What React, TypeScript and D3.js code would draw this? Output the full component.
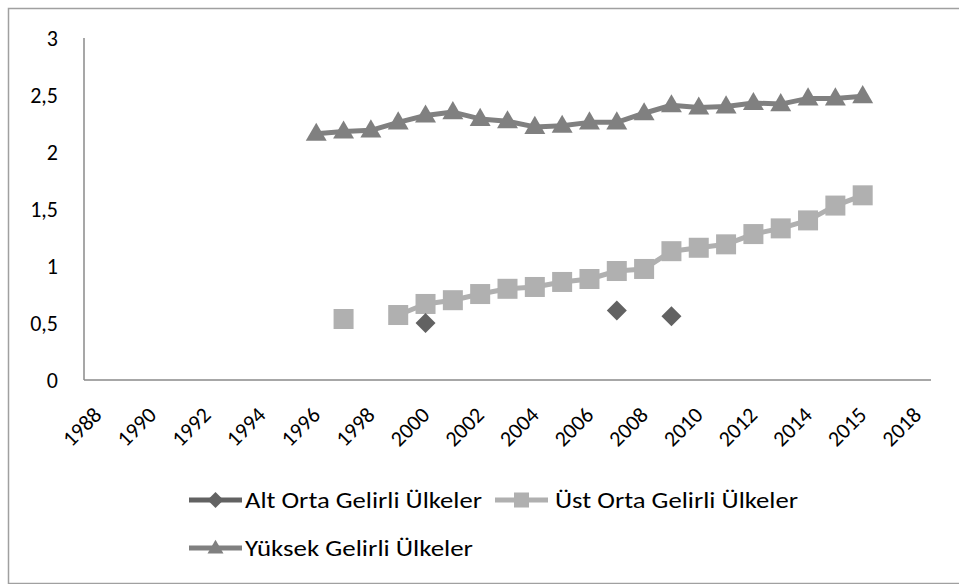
import React from "react";
import * as d3 from "d3";

const categories = [
  "1988","1989","1990","1991","1992","1993","1994","1995","1996","1997",
  "1998","1999","2000","2001","2002","2003","2004","2005","2006","2007",
  "2008","2009","2010","2011","2012","2013","2014","2015","2016","2017","2018",
];
const tickCategories = ["1988","1990","1992","1994","1996","1998","2000","2002","2004","2006","2008","2010","2012","2014","2016","2018"];
const tickLabels = ["1988","1990","1992","1994","1996","1998","2000","2002","2004","2006","2008","2010","2012","2014","2015","2018"];
const yTicks = [0, 0.5, 1, 1.5, 2, 2.5, 3];

const altOrtaYears = ["2000", "2007", "2009"];
const altOrtaValues = [0.5, 0.61, 0.56];

const ustOrtaYears = ["1997","1998","1999","2000","2001","2002","2003","2004","2005","2006","2007","2008","2009","2010","2011","2012","2013","2014","2015","2016"];
const ustOrtaValues: (number | null)[] = [0.535, null, 0.57, 0.667, 0.70, 0.754, 0.80, 0.816, 0.86, 0.886, 0.956, 0.974, 1.13, 1.16, 1.19, 1.28, 1.33, 1.40, 1.53, 1.62];

const yuksekYears = ["1996","1997","1998","1999","2000","2001","2002","2003","2004","2005","2006","2007","2008","2009","2010","2011","2012","2013","2014","2015","2016"];
const yuksekValues = [2.16, 2.18, 2.19, 2.26, 2.32, 2.35, 2.29, 2.27, 2.22, 2.23, 2.26, 2.26, 2.34, 2.41, 2.39, 2.40, 2.43, 2.42, 2.47, 2.47, 2.49];

const seriesNames = ["Alt Orta Gelirli Ülkeler", "Üst Orta Gelirli Ülkeler", "Yüksek Gelirli Ülkeler"];

const FONT = "Carlito, Calibri, Lato, 'Open Sans', sans-serif";
const C_ALT = "#626262";
const C_UST = "#b0b0b0";
const C_YUK = "#808080";

type Pt = { c: string; v: number | null };

export default function App() {
  const W = 959, H = 584;
  const x = d3.scaleBand<string>().domain(categories).range([84, 931]).paddingInner(0).paddingOuter(0);
  const y = d3.scaleLinear().domain([0, 3]).range([380, 38]);
  const cx = (c: string) => (x(c) as number) + x.bandwidth() / 2;

  const line = d3.line<Pt>()
    .defined((d) => d.v !== null)
    .x((d) => cx(d.c))
    .y((d) => y(d.v as number));

  const ust: Pt[] = ustOrtaYears.map((c, i) => ({ c, v: ustOrtaValues[i] }));
  const yuk: Pt[] = yuksekYears.map((c, i) => ({ c, v: yuksekValues[i] }));
  const alt: Pt[] = altOrtaYears.map((c, i) => ({ c, v: altOrtaValues[i] }));

  const tri = d3.symbol().type(d3.symbolTriangle).size(190)() as string;

  const diamond = (px: number, py: number, r: number) =>
    `M${px},${py - r}L${px + r},${py}L${px},${py + r}L${px - r},${py}Z`;

  return (
    <svg width={W} height={H} style={{ position: "absolute", left: 0, top: 0 }} fontFamily={FONT}>
      <rect x={0} y={0} width={W} height={H} fill="#fff" />
      <rect x={8.5} y={8.5} width={980} height={575} fill="none" stroke="#a0a0a0" strokeWidth={1.5} />

      {/* axes */}
      <line x1={84} x2={84} y1={y(3)} y2={y(0)} stroke="#8a8a8a" strokeWidth={1.5} />
      <line x1={84} x2={931} y1={y(0)} y2={y(0)} stroke="#8a8a8a" strokeWidth={1.5} />

      {yTicks.map((t) => (
        <text key={t} x={58} y={y(t)} textAnchor="end" dominantBaseline="central" fontSize={22} fill="#000">
          {String(t).replace(".", ",")}
        </text>
      ))}

      {tickCategories.map((c, i) => (
        <text
          key={c}
          transform={`translate(${cx(c)},${411}) rotate(-45)`}
          textAnchor="end"
          dominantBaseline="central"
          fontSize={22}
          fill="#000"
        >
          {tickLabels[i]}
        </text>
      ))}

      {/* series lines */}
      <path d={line(ust) as string} fill="none" stroke={C_UST} strokeWidth={5} strokeLinejoin="round" />
      <path d={line(yuk) as string} fill="none" stroke={C_YUK} strokeWidth={5} strokeLinejoin="round" />

      {ust.filter((d) => d.v !== null).map((d) => (
        <rect key={d.c} x={cx(d.c) - 10} y={y(d.v as number) - 10} width={20} height={20} fill={C_UST} />
      ))}
      {yuk.map((d) => (
        <path key={d.c} d={tri} transform={`translate(${cx(d.c)},${y(d.v as number) + 1})`} fill={C_YUK} />
      ))}
      {alt.map((d) => (
        <path key={d.c} d={diamond(cx(d.c), y(d.v as number), 10)} fill={C_ALT} />
      ))}

      {/* legend */}
      <g>
        <line x1={189} x2={242} y1={500} y2={500} stroke={C_ALT} strokeWidth={5} />
        <path d={diamond(215.5, 500, 8)} fill={C_ALT} />
        <text x={245} y={500} dominantBaseline="central" fontSize={23} fill="#000" textLength={237} lengthAdjust="spacingAndGlyphs">{seriesNames[0]}</text>

        <line x1={495} x2={548} y1={500} y2={500} stroke={C_UST} strokeWidth={5} />
        <rect x={514} y={492.5} width={15} height={15} fill={C_UST} />
        <text x={555} y={500} dominantBaseline="central" fontSize={23} fill="#000" textLength={243} lengthAdjust="spacingAndGlyphs">{seriesNames[1]}</text>

        <line x1={189} x2={242} y1={548} y2={548} stroke={C_YUK} strokeWidth={5} />
        <path d={d3.symbol().type(d3.symbolTriangle).size(110)() as string} transform="translate(215.5,549)" fill={C_YUK} />
        <text x={245} y={548} dominantBaseline="central" fontSize={23} fill="#000" textLength={228} lengthAdjust="spacingAndGlyphs">{seriesNames[2]}</text>
      </g>
    </svg>
  );
}
